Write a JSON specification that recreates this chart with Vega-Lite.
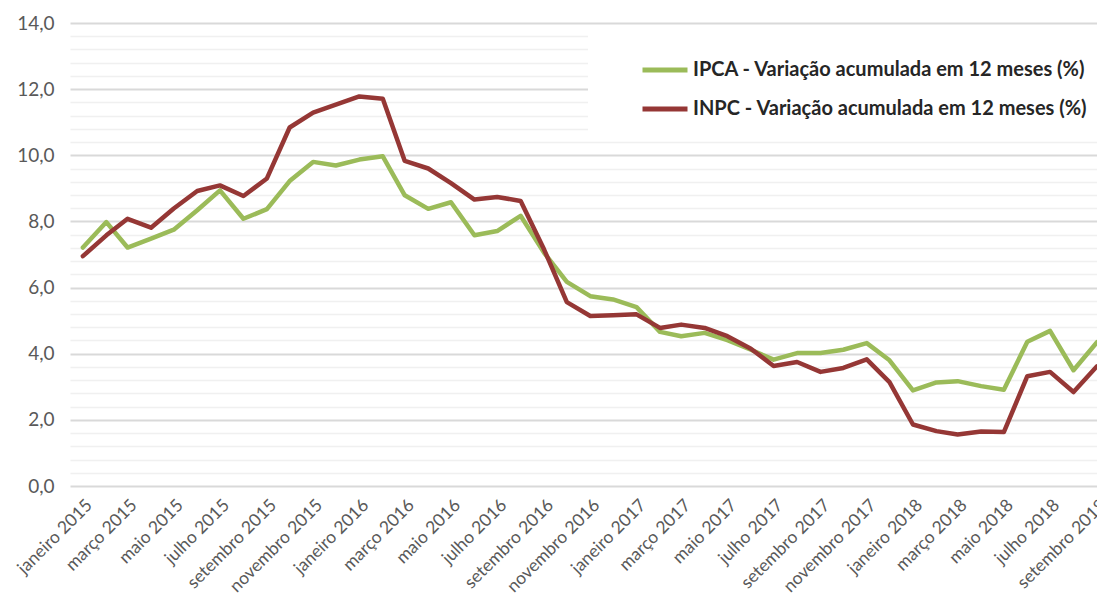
{
  "$schema": "https://vega.github.io/schema/vega-lite/v6.json",
  "width": 1027,
  "height": 463,
  "autosize": "none",
  "padding": {"left": 70, "top": 23, "right": 0, "bottom": 112},
  "background": "white",
  "config": {
    "font": "Lato",
    "view": {"stroke": null}
  },
  "data": {
    "values": [
      {"mes": "2015-01-01", "IPCA": 7.21, "INPC": 6.95},
      {"mes": "2015-02-01", "IPCA": 7.98, "INPC": 7.58},
      {"mes": "2015-03-01", "IPCA": 7.21, "INPC": 8.08},
      {"mes": "2015-04-01", "IPCA": 7.48, "INPC": 7.81},
      {"mes": "2015-05-01", "IPCA": 7.75, "INPC": 8.39},
      {"mes": "2015-06-01", "IPCA": 8.34, "INPC": 8.92},
      {"mes": "2015-07-01", "IPCA": 8.94, "INPC": 9.09},
      {"mes": "2015-08-01", "IPCA": 8.08, "INPC": 8.77},
      {"mes": "2015-09-01", "IPCA": 8.37, "INPC": 9.30},
      {"mes": "2015-10-01", "IPCA": 9.22, "INPC": 10.84},
      {"mes": "2015-11-01", "IPCA": 9.80, "INPC": 11.29},
      {"mes": "2015-12-01", "IPCA": 9.69, "INPC": 11.53},
      {"mes": "2016-01-01", "IPCA": 9.87, "INPC": 11.78},
      {"mes": "2016-02-01", "IPCA": 9.97, "INPC": 11.71},
      {"mes": "2016-03-01", "IPCA": 8.79, "INPC": 9.83},
      {"mes": "2016-04-01", "IPCA": 8.38, "INPC": 9.60},
      {"mes": "2016-05-01", "IPCA": 8.58, "INPC": 9.16},
      {"mes": "2016-06-01", "IPCA": 7.58, "INPC": 8.66},
      {"mes": "2016-07-01", "IPCA": 7.71, "INPC": 8.74},
      {"mes": "2016-08-01", "IPCA": 8.17, "INPC": 8.62},
      {"mes": "2016-09-01", "IPCA": 7.05, "INPC": 7.15},
      {"mes": "2016-10-01", "IPCA": 6.17, "INPC": 5.56},
      {"mes": "2016-11-01", "IPCA": 5.74, "INPC": 5.14},
      {"mes": "2016-12-01", "IPCA": 5.64, "INPC": 5.16},
      {"mes": "2017-01-01", "IPCA": 5.41, "INPC": 5.19},
      {"mes": "2017-02-01", "IPCA": 4.66, "INPC": 4.78},
      {"mes": "2017-03-01", "IPCA": 4.53, "INPC": 4.88},
      {"mes": "2017-04-01", "IPCA": 4.63, "INPC": 4.78},
      {"mes": "2017-05-01", "IPCA": 4.41, "INPC": 4.53},
      {"mes": "2017-06-01", "IPCA": 4.12, "INPC": 4.15},
      {"mes": "2017-07-01", "IPCA": 3.82, "INPC": 3.63},
      {"mes": "2017-08-01", "IPCA": 4.02, "INPC": 3.75},
      {"mes": "2017-09-01", "IPCA": 4.02, "INPC": 3.45},
      {"mes": "2017-10-01", "IPCA": 4.12, "INPC": 3.57},
      {"mes": "2017-11-01", "IPCA": 4.32, "INPC": 3.83},
      {"mes": "2017-12-01", "IPCA": 3.80, "INPC": 3.14},
      {"mes": "2018-01-01", "IPCA": 2.89, "INPC": 1.86},
      {"mes": "2018-02-01", "IPCA": 3.13, "INPC": 1.66},
      {"mes": "2018-03-01", "IPCA": 3.17, "INPC": 1.56},
      {"mes": "2018-04-01", "IPCA": 3.02, "INPC": 1.65},
      {"mes": "2018-05-01", "IPCA": 2.91, "INPC": 1.63},
      {"mes": "2018-06-01", "IPCA": 4.36, "INPC": 3.32},
      {"mes": "2018-07-01", "IPCA": 4.69, "INPC": 3.45},
      {"mes": "2018-08-01", "IPCA": 3.50, "INPC": 2.84},
      {"mes": "2018-09-01", "IPCA": 4.35, "INPC": 3.62}
    ]
  },
  "transform": [{"fold": ["IPCA", "INPC"], "as": ["serie", "valor"]}],
  "mark": {"type": "line", "strokeWidth": 4.5, "strokeJoin": "round", "strokeCap": "round"},
  "encoding": {
    "x": {
      "field": "mes",
      "type": "temporal",
      "scale": {
        "type": "utc",
        "domain": [
          {"year": 2014, "month": 12, "date": 15, "utc": true},
          {"year": 2018, "month": 9, "date": 1, "utc": true}
        ]
      },
      "axis": {
        "title": null,
        "domain": false,
        "ticks": false,
        "grid": false,
        "tickCount": {"interval": "month", "step": 2},
        "labelOverlap": false,
        "labelFlush": false,
        "labelBound": false,
        "labelAngle": -45,
        "labelAlign": "right",
        "labelBaseline": "top",
        "labelPadding": 10,
        "labelDx": -3,
        "labelFontSize": 17.5,
        "labelColor": "#595959",
        "labelExpr": "['janeiro','fevereiro','março','abril','maio','junho','julho','agosto','setembro','outubro','novembro','dezembro'][utcmonth(datum.value)] + ' ' + utcyear(datum.value)"
      }
    },
    "y": {
      "field": "valor",
      "type": "quantitative",
      "scale": {"domain": [0, 14], "nice": false, "zero": true},
      "axis": {
        "title": null,
        "domain": false,
        "ticks": false,
        "values": [0, 0.4, 0.8, 1.2, 1.6, 2, 2.4, 2.8, 3.2, 3.6, 4, 4.4, 4.8, 5.2, 5.6, 6, 6.4, 6.8, 7.2, 7.6, 8, 8.4, 8.8, 9.2, 9.6, 10, 10.4, 10.8, 11.2, 11.6, 12, 12.4, 12.8, 13.2, 13.6, 14],
        "labelOverlap": false,
        "labelFontSize": 19,
        "labelColor": "#595959",
        "labelPadding": 16,
        "labelExpr": "datum.value % 2 === 0 ? replace(format(datum.value, '.1f'), '.', ',') : ''",
        "gridColor": {"condition": {"test": "datum.value % 2 === 0", "value": "#d9d9d9"}, "value": "#f0f0f0"},
        "gridWidth": {"condition": {"test": "datum.value % 2 === 0", "value": 2}, "value": 1.6}
      }
    },
    "color": {
      "field": "serie",
      "type": "nominal",
      "scale": {"domain": ["IPCA", "INPC"], "range": ["#9BBB59", "#953735"]},
      "legend": {
        "title": null,
        "orient": "none",
        "legendX": 518,
        "legendY": 10,
        "fillColor": "white",
        "padding": 12,
        "symbolType": "stroke",
        "symbolSize": 2025,
        "symbolStrokeWidth": 5,
        "symbolOffset": 40,
        "labelOffset": 3,
        "rowPadding": 4,
        "labelFontSize": 20,
        "labelFontWeight": "bold",
        "labelColor": "#262626",
        "labelLimit": 0,
        "labelExpr": "datum.label + ' - Variação acumulada em 12 meses (%)'"
      }
    }
  }
}
